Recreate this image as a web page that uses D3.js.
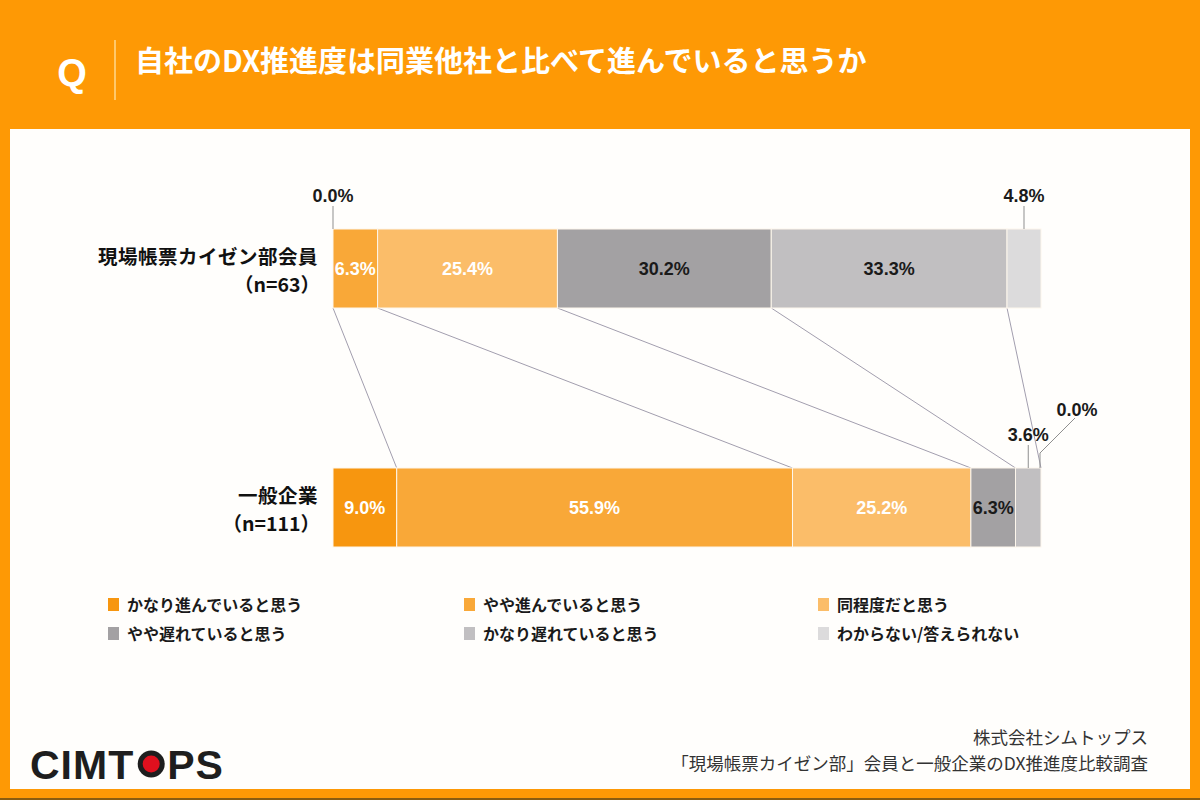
<!DOCTYPE html>
<html><head><meta charset="utf-8">
<script src="https://cdn.jsdelivr.net/npm/d3@7"></script>
<style>body{margin:0;background:#fff;} svg{display:block}</style>
</head><body><svg id="c" width="1200" height="800"></svg>
<script>
// ---------- data ----------
const categories = ["現場帳票カイゼン部会員", "一般企業"];
const sampleLabels = ["（n=63）", "（n=111）"];
const seriesNames = ["かなり進んでいると思う", "やや進んでいると思う", "同程度だと思う",
                     "やや遅れていると思う", "かなり遅れていると思う", "わからない/答えられない"];
const valuesKaizen = [0.0, 6.3, 25.4, 30.2, 33.3, 4.8];
const valuesGeneral = [9.0, 55.9, 25.2, 6.3, 3.6, 0.0];
const titleText = "自社のDX推進度は同業他社と比べて進んでいると思うか";
const footerLines = ["株式会社シムトップス", "「現場帳票カイゼン部」会員と一般企業のDX推進度比較調査"];

// ---------- style ----------
const seriesColors = ["#F7960F", "#F9A838", "#FBBD69", "#A3A1A3", "#C1BFC1", "#DCDBDC"];
const seriesText = ["#ffffff", "#ffffff", "#ffffff", "#1a1a1a", "#1a1a1a", "#1a1a1a"];
const ORANGE = "#FE9905";
const JP = "'Noto Sans CJK JP', 'Noto Sans', sans-serif";
const NUM = "'Liberation Sans', Arial, 'Noto Sans CJK JP', sans-serif";

const svg = d3.select("#c");
const rows = [valuesKaizen, valuesGeneral];

// background
svg.append("rect").attr("width", 1200).attr("height", 800).attr("fill", ORANGE);
svg.append("rect").attr("x", 10).attr("y", 129).attr("width", 1180).attr("height", 660).attr("fill", "#FFFEFC");
svg.append("rect").attr("x", 0).attr("y", 798).attr("width", 1200).attr("height", 2).attr("fill", "#8a5c10");

// header
svg.append("text").attr("x", 72).attr("y", 86).attr("text-anchor", "middle")
  .attr("font-family", NUM).attr("font-weight", "bold").attr("font-size", 38).attr("fill", "#fff").text("Q");
svg.append("line").attr("x1", 115).attr("x2", 115).attr("y1", 40).attr("y2", 100)
  .attr("stroke", "#FFD98C").attr("stroke-width", 1.5);
svg.append("text").attr("x", 135).attr("y", 72)
  .attr("font-family", JP).attr("font-weight", "bold").attr("font-size", 29).attr("fill", "#fff").text(titleText);

// scales
const x = d3.scaleLinear().domain([0, 100]).range([333, 1041]);
const y = d3.scaleBand().domain(categories).range([229, 547]).paddingInner(160 / 239).paddingOuter(0);
const bw = y.bandwidth();
const fmt = v => d3.format(".1f")(v) + "%";

// stacked data
const stacked = rows.map(vals => {
  let c = 0;
  return vals.map((v, i) => { const s = c; c += v; return { v, i, x0: s, x1: c }; });
});

// connector lines (between cumulative ends)
const g = svg.append("g");
for (let i = 0; i < seriesNames.length - 1; i++) {
  g.append("line")
    .attr("x1", x(stacked[0][i].x1)).attr("y1", y(categories[0]) + bw)
    .attr("x2", x(stacked[1][i].x1)).attr("y2", y(categories[1]))
    .attr("stroke", "#A29EAE").attr("stroke-width", 1);
}

// bars
stacked.forEach((segs, r) => {
  const cat = categories[r];
  const gy = y(cat);
  const rg = svg.append("g");
  rg.selectAll("rect").data(segs).join("rect")
    .attr("x", d => x(d.x0)).attr("y", gy)
    .attr("width", d => x(d.x1) - x(d.x0)).attr("height", bw)
    .attr("fill", d => seriesColors[d.i])
    .attr("stroke", d => d.v > 0 ? "#fdf6ec" : "none").attr("stroke-width", 1);

  // inside labels
  rg.selectAll("text.in").data(segs.filter(d => d.v >= 5)).join("text")
    .attr("class", "in")
    .attr("x", d => (x(d.x0) + x(d.x1)) / 2).attr("y", gy + bw / 2 + 6.5)
    .attr("text-anchor", "middle").attr("font-family", NUM).attr("font-weight", "bold")
    .attr("font-size", 18).attr("fill", d => seriesText[d.i]).text(d => fmt(d.v));

  // outside labels
  segs.filter(d => d.v < 5).forEach(d => {
    const cx = (x(d.x0) + x(d.x1)) / 2;
    const last = d.i === segs.length - 1 && r === 1;
    if (last) {
      const bx = x(d.x1) - 1;
      rg.append("polyline")
        .attr("points", [[bx, gy], [bx, gy - 15], [bx + 35, gy - 50]].map(p => p.join(",")).join(" "))
        .attr("fill", "none").attr("stroke", "#8f8f8f").attr("stroke-width", 1);
      rg.append("text").attr("x", bx + 37).attr("y", gy - 52)
        .attr("text-anchor", "middle").attr("font-family", NUM).attr("font-weight", "bold")
        .attr("font-size", 18).attr("fill", "#1a1a1a").text(fmt(d.v));
    } else {
      rg.append("line").attr("x1", cx).attr("x2", cx).attr("y1", gy).attr("y2", gy - 23)
        .attr("stroke", "#8f8f8f").attr("stroke-width", 1);
      rg.append("text").attr("x", cx).attr("y", gy - 27)
        .attr("text-anchor", "middle").attr("font-family", NUM).attr("font-weight", "bold")
        .attr("font-size", 18).attr("fill", "#1a1a1a").text(fmt(d.v));
    }
  });

  // category labels
  svg.append("text").attr("x", 318).attr("y", gy + bw / 2 - 5)
    .attr("text-anchor", "end").attr("font-family", JP).attr("font-weight", "bold")
    .attr("font-size", 19.5).attr("letter-spacing", 0.5).attr("fill", "#111").text(cat);
  svg.append("text").attr("x", 320).attr("y", gy + bw / 2 + 23.5)
    .attr("text-anchor", "end").attr("font-family", JP).attr("font-weight", "bold")
    .attr("font-size", 19.5).attr("fill", "#111").text(sampleLabels[r]);
});

// legend
const legX = [108, 464, 818];
const legY = [605, 634];
const lg = svg.append("g");
seriesNames.forEach((name, i) => {
  const lx = legX[i % 3], ly = legY[Math.floor(i / 3)];
  lg.append("rect").attr("x", lx).attr("y", ly - 7).attr("width", 11).attr("height", 13).attr("fill", seriesColors[i]);
  lg.append("text").attr("x", lx + 19).attr("y", ly + 6)
    .attr("font-family", JP).attr("font-weight", "bold").attr("font-size", 16).attr("fill", "#1a1a1a").text(name);
});

// footer
footerLines.forEach((t, i) => {
  svg.append("text").attr("x", 1148).attr("y", 744 + i * 26).attr("text-anchor", "end")
    .attr("font-family", JP).attr("font-size", 17.5).attr("fill", "#333").text(t);
});

// logo
const logo = svg.append("g").attr("font-family", "'Liberation Sans', Arial, sans-serif")
  .attr("font-weight", "bold").attr("font-size", 41).attr("fill", "#1e1e1e");
const t1 = logo.append("text").attr("x", 30).attr("y", 779).attr("letter-spacing", 1).text("CIMT");
const w1 = t1.node().getComputedTextLength();
const oc = 30 + w1 + 17;
logo.append("circle").attr("cx", oc).attr("cy", 764).attr("r", 13.5).attr("fill", "#1e1e1e");
logo.append("circle").attr("cx", oc).attr("cy", 764).attr("r", 8.5).attr("fill", "#E0101E");
logo.append("text").attr("x", oc + 16).attr("y", 779).attr("letter-spacing", 1).text("PS");
</script>
</body></html>
